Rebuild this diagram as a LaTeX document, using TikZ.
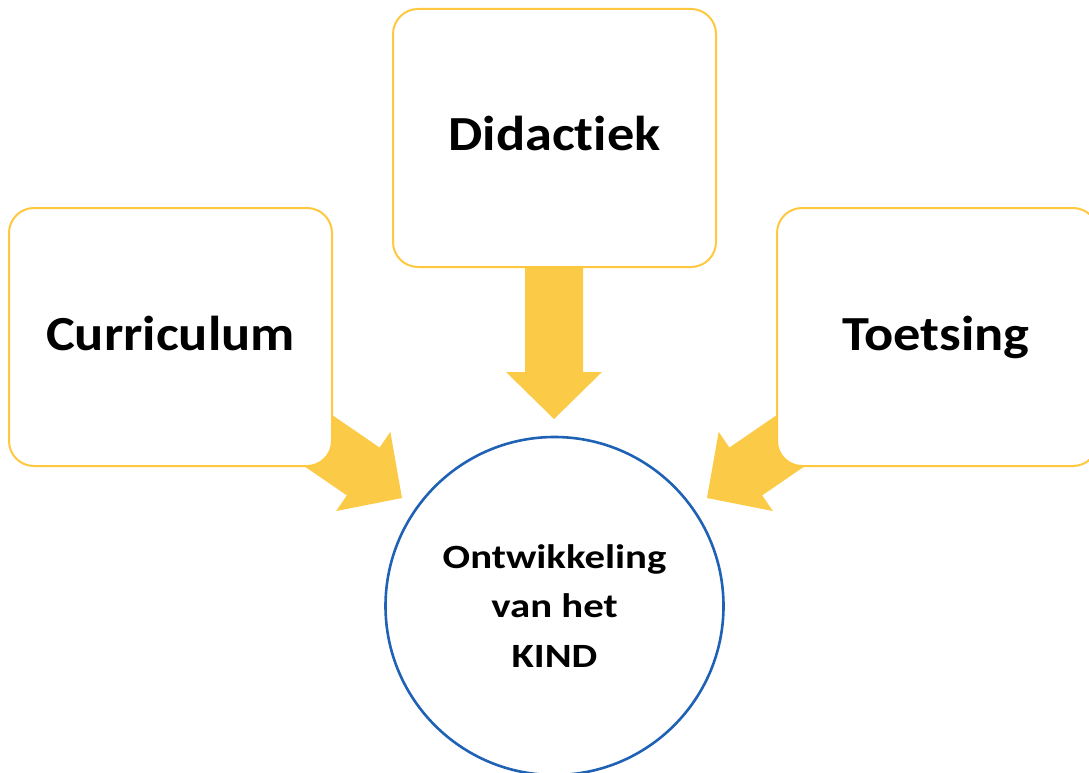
\documentclass[tikz,border=0pt]{standalone}
\usepackage{fontspec}
\setmainfont{Carlito}
\newfontfamily\bigfont[FakeStretch=1.11,Ligatures={NoCommon}]{Carlito}
\newfontfamily\circfont[FakeStretch=1.2,Ligatures={NoCommon}]{Carlito}
\definecolor{boxline}{HTML}{FFC83F}
\definecolor{arrowfill}{HTML}{FBCB47}
\definecolor{circline}{HTML}{1F62B5}
\begin{document}
\begin{tikzpicture}[x=1pt,y=-1pt,
  boxstyle/.style={draw=boxline, line width=2pt, fill=white, rounded corners=25pt},
  bigtext/.style={font=\bigfont\fontsize{49}{58}\selectfont\bfseries, anchor=base, inner sep=0pt},
  blockarrow/.style={fill=arrowfill, draw=none}]
\useasboundingbox (0,0) rectangle (1089,773);
\begin{scope}
\clip (0,0) rectangle (1089,773);
% block arrows (behind boxes)
\begin{scope}[shift={(554,419)}, rotate=-90]
  \path[blockarrow] (-170,-29) -- (-47,-29) -- (-47,-48) -- (0,0) -- (-47,48) -- (-47,29) -- (-170,29) -- cycle;
\end{scope}
\begin{scope}[shift={(402,498)}, rotate=-34.4]
  \path[blockarrow] (-170,-29) -- (-47,-29) -- (-47,-48) -- (0,0) -- (-47,48) -- (-47,29) -- (-170,29) -- cycle;
\end{scope}
\begin{scope}[shift={(707,498)}, rotate=214.4]
  \path[blockarrow] (-170,-29) -- (-47,-29) -- (-47,-48) -- (0,0) -- (-47,48) -- (-47,29) -- (-170,29) -- cycle;
\end{scope}
% boxes
\path[boxstyle] (393,9) rectangle (716,267);
\path[boxstyle] (9,208) rectangle (332,466);
\path[boxstyle] (777,208) rectangle (1098,466);
\end{scope}
\node[bigtext] (did) at (554.5,150) {Didactiek};
\node[bigtext] (cur) at (170.5,350) {Curriculum};
\node[bigtext] (toe) at (936,350) {Toetsing};
% circle
\node[circle, draw=circline, line width=2.6pt, minimum size=338pt, inner sep=0pt,
      align=center, font=\circfont\fontsize{34}{49.5}\selectfont\bfseries] (kind) at (554.5,606) {Ontwikkeling\\van het\\KIND};
\end{tikzpicture}
\end{document}
